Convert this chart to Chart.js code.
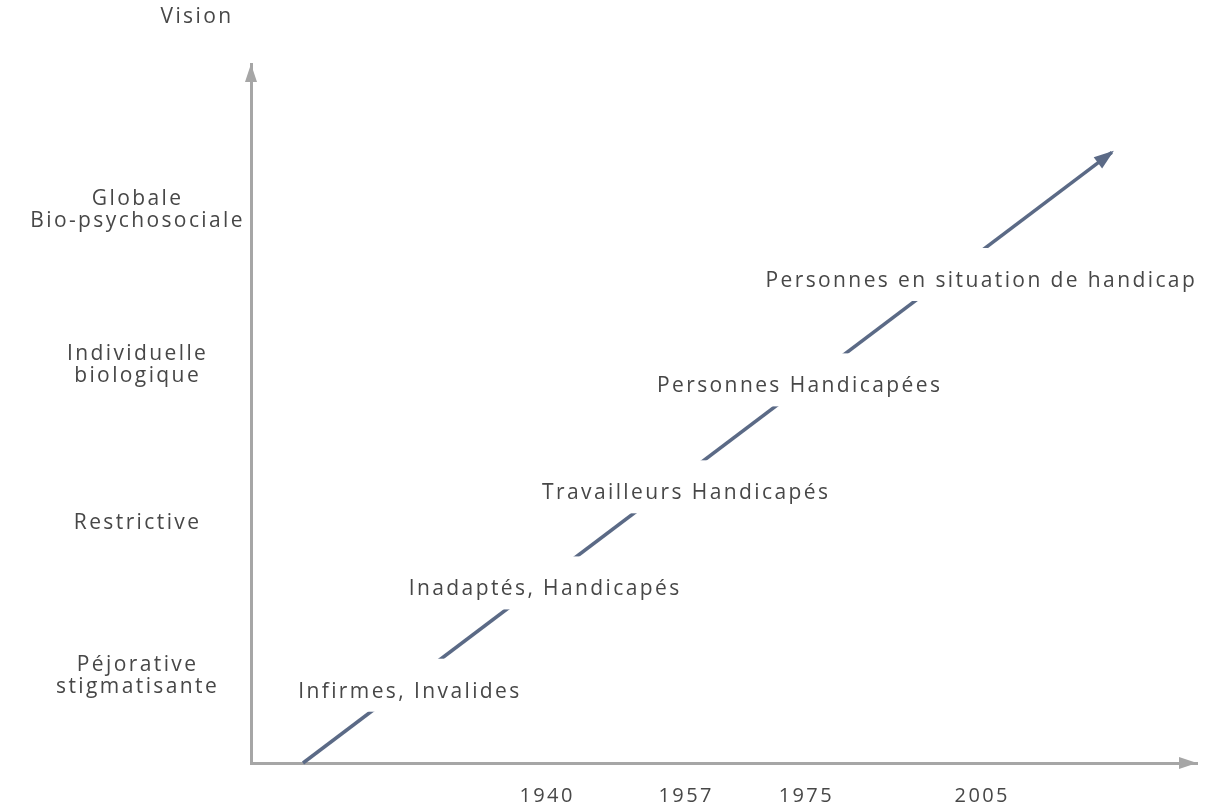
<!DOCTYPE html>
<html lang="fr">
<head>
<meta charset="UTF-8">
<title>Vision du handicap</title>
<script src="https://cdn.jsdelivr.net/npm/chart.js"></script>
<style>
    body { margin: 0; background: #ffffff; }
    #wrap { width: 1209px; height: 807px; position: relative; }
</style>
</head>
<body>
<div id="wrap"><canvas id="chart"></canvas></div>
<script>
// axe horizontal : années (positions, échelle 0-100)
const yearTicks = [31.3, 46.0, 58.7, 77.3];
const yearLabels = ['1940', '1957', '1975', '2005'];

// axe vertical : vision
const visionTicks = [0.56, 1.55, 2.57, 3.57];
const visionLabels = [
    ['Péjorative', 'stigmatisante'],
    ['Restrictive'],
    ['Individuelle', 'biologique'],
    ['Globale', 'Bio-psychosociale']
];

// étapes le long de la flèche
const stageNames = ['Infirmes, Invalides', 'Inadaptés, Handicapés', 'Travailleurs Handicapés', 'Personnes Handicapées', 'Personnes en situation de handicap'];
const stageX = [16.8, 31.1, 46.0, 58.0, 77.2];
const stageY = [0.46, 1.12, 1.74, 2.43, 3.11];

// flèche d'évolution
const trendX = [5.5, 91.0];
const trendY = [0, 3.94];

const textColor = '#474747';
const axisColor = '#a6a6a6';
const arrowColor = '#5b6a86';
const fontFamily = '"Open Sans", sans-serif';
const spacing = '2.4px';

function arrowHead(ctx, x, y, angle, len, half, color) {
    ctx.save();
    ctx.translate(x, y);
    ctx.rotate(angle);
    ctx.beginPath();
    ctx.moveTo(0, 0);
    ctx.lineTo(-len, -half);
    ctx.lineTo(-len, half);
    ctx.closePath();
    ctx.fillStyle = color;
    ctx.fill();
    ctx.restore();
}

const diagramPlugin = {
    id: 'diagram',
    beforeLayout(chart) { chart.ctx.letterSpacing = spacing; },
    beforeDraw(chart) { chart.ctx.letterSpacing = spacing; },
    afterDatasetsDraw(chart) {
        const ctx = chart.ctx;
        const area = chart.chartArea;
        const xs = chart.scales.x, ys = chart.scales.y;
        ctx.save();
        ctx.letterSpacing = spacing;

        // flèches des axes
        arrowHead(ctx, area.left, area.top, -Math.PI / 2, 18, 6, axisColor);
        arrowHead(ctx, area.right, area.bottom, 0, 18, 6, axisColor);

        // pointe de la flèche diagonale
        const x0 = xs.getPixelForValue(trendX[0]), y0 = ys.getPixelForValue(trendY[0]);
        const x1 = xs.getPixelForValue(trendX[1]), y1 = ys.getPixelForValue(trendY[1]);
        arrowHead(ctx, x1 + 2, y1 - 1.5, Math.atan2(y1 - y0, x1 - x0), 20, 7, arrowColor);

        // étiquettes des étapes sur fond blanc
        ctx.font = '21px ' + fontFamily;
        ctx.textAlign = 'center';
        ctx.textBaseline = 'middle';
        stageNames.forEach((name, i) => {
            const cx = xs.getPixelForValue(stageX[i]);
            const cy = ys.getPixelForValue(stageY[i]);
            const w = ctx.measureText(name).width;
            ctx.fillStyle = '#ffffff';
            ctx.fillRect(cx - w / 2 - 10, cy - 33, w + 20, 53);
            ctx.fillStyle = textColor;
            ctx.fillText(name, cx, cy);
        });

        // titre de l'axe vertical
        ctx.fillText('Vision', area.left - 54, 17);
        ctx.restore();
    }
};

new Chart(document.getElementById('chart'), {
    type: 'scatter',
    data: {
        datasets: [{
            data: trendX.map((x, i) => ({ x: x, y: trendY[i] })),
            showLine: true,
            borderColor: arrowColor,
            borderWidth: 3.5,
            pointRadius: 0,
            clip: false
        }]
    },
    options: {
        responsive: true,
        maintainAspectRatio: false,
        animation: false,
        layout: { padding: { top: 64, right: 12, left: 0, bottom: 0 } },
        plugins: { legend: { display: false }, tooltip: { enabled: false } },
        scales: {
            x: {
                type: 'linear',
                min: 0,
                max: 100,
                afterFit(scale) {
                    scale.height = 44;
                    scale.paddingLeft = 0;
                    scale.paddingRight = 0;
                },
                afterBuildTicks(scale) { scale.ticks = yearTicks.map(v => ({ value: v })); },
                grid: { display: false, drawTicks: false },
                border: { display: true, color: axisColor, width: 3 },
                ticks: {
                    autoSkip: false,
                    maxRotation: 0,
                    padding: 21,
                    color: textColor,
                    font: { family: fontFamily, size: 20 },
                    callback: (v, i) => yearLabels[i]
                }
            },
            y: {
                type: 'linear',
                min: 0,
                max: 4.51,
                afterFit(scale) {
                    scale.width = 251;
                    scale.paddingTop = 0;
                    scale.paddingBottom = 0;
                },
                afterBuildTicks(scale) { scale.ticks = visionTicks.map(v => ({ value: v })); },
                grid: { display: false, drawTicks: false },
                border: { display: true, color: axisColor, width: 3 },
                ticks: {
                    autoSkip: false,
                    crossAlign: 'center',
                    padding: 6,
                    color: textColor,
                    font: { family: fontFamily, size: 21, lineHeight: 1.05 },
                    callback: (v, i) => visionLabels[i]
                }
            }
        }
    },
    plugins: [diagramPlugin]
});
</script>
</body>
</html>
